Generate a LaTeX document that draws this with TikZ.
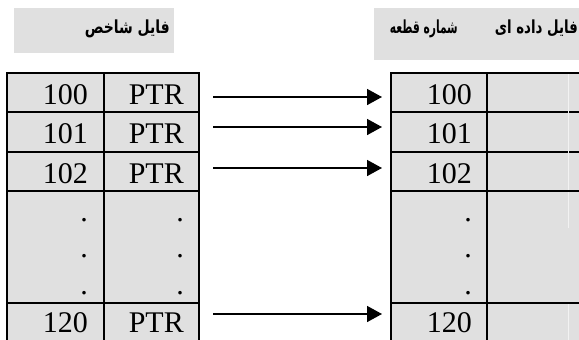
\documentclass[tikz,border=0pt]{standalone}
\usepackage{fontspec}
\usepackage{graphicx}
\setmainfont{Liberation Serif}
\newfontfamily\arabicfont[Script=Arabic]{DejaVu Sans}
\TeXXeTstate=1
\usetikzlibrary{arrows.meta}
\definecolor{cellgray}{RGB}{224,224,224}
\definecolor{headgray}{RGB}{224,224,224}
\definecolor{faintline}{RGB}{242,242,242}
\begin{document}
\begin{tikzpicture}[x=1pt,y=-1pt,
  cell/.style={draw=black, line width=2pt, fill=cellgray, rectangle, inner sep=0pt, outer sep=0pt, anchor=north west},
  num/.style={font=\fontsize{30}{30}\selectfont, inner sep=0pt, anchor=base east},
  headbox/.style={fill=headgray, rectangle, inner sep=0pt, outer sep=0pt, anchor=north west},
  headtext/.style={font=\arabicfont\bfseries\fontsize{18}{18}\selectfont, inner sep=0pt, anchor=base east},
  faint/.style={draw=faintline, line width=1pt},
  arr/.style={line width=1.6pt, -{Triangle[length=15pt,width=16pt]}, shorten <=14pt, shorten >=9pt}]
\useasboundingbox (0,0) rectangle (579,340);
\clip (0,0) rectangle (579,340);
% headers
\node[headbox, minimum width=160pt, minimum height=45pt] (h1) at (14,8) {};
\node[headtext] (t1) at (170,34) {\resizebox{85pt}{\height}{\beginR فایل شاخص\endR}};
\node[headbox, minimum width=210pt, minimum height=52pt] (h2) at (374,8) {};
\node[headtext] (t2) at (578,34) {\resizebox{83pt}{\height}{\beginR فایل داده ای\endR}};
\node[headtext] (t3) at (458,34) {\resizebox{68pt}{\height}{\beginR شماره قطعه\endR}};
% cells
\foreach \i/\t/\h in {1/73/39,2/112/40,3/152/39,4/191/112,5/303/45} {
  \node[cell, minimum width=97pt, minimum height=\h pt] (a\i) at (7,\t) {};
  \node[cell, minimum width=95pt, minimum height=\h pt] (b\i) at (104,\t) {};
  \node[cell, minimum width=96pt, minimum height=\h pt] (c\i) at (391,\t) {};
  \node[cell, minimum width=110pt, minimum height=\h pt] (d\i) at (487,\t) {};
}
\draw[faint] (568,74) -- (568,190);
\draw[faint] (568,192) -- (568,228);
\draw[faint] (568,304) -- (568,340);
% texts and arrows
\foreach \i/\n/\b/\a in {1/100/31/24,2/101/31/15,3/102/31/16,5/120/29/11} {
  \node[num] (na\i) at ([xshift=-16pt,yshift=-\b pt]a\i.north east) {\n};
  \node[num] (nb\i) at ([xshift=-15pt,yshift=-\b pt]b\i.north east) {PTR};
  \node[num] (nc\i) at ([xshift=-15pt,yshift=-\b pt]c\i.north east) {\n};
  \draw[arr] ([yshift=-\a pt]b\i.north east) -- ([yshift=-\a pt]c\i.north west);
}
% dots
\foreach \k/\d in {1/30.5,2/66.5,3/103.5} {
  \node[num] (da\k) at ([xshift=-16pt,yshift=-\d pt]a4.north east) {.};
  \node[num] (db\k) at ([xshift=-15pt,yshift=-\d pt]b4.north east) {.};
  \node[num] (dc\k) at ([xshift=-15pt,yshift=-\d pt]c4.north east) {.};
}
\end{tikzpicture}
\end{document}
